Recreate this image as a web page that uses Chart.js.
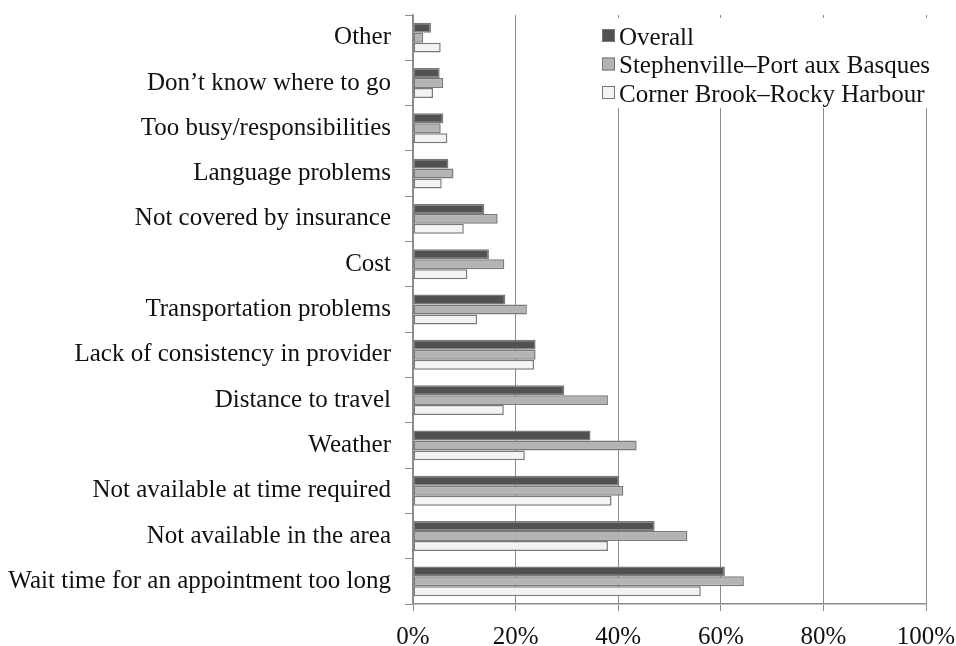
<!DOCTYPE html>
<html lang="en">
<head>
<meta charset="UTF-8">
<title>Barriers to care</title>
<script src="https://cdn.jsdelivr.net/npm/chart.js"></script>
<style>
  html, body { margin: 0; padding: 0; background: #fff; }
  .wrap { width: 956px; height: 646px; }
</style>
</head>
<body>
<div class="wrap"><canvas id="grafico" width="956" height="646"></canvas></div>
<script>
var categorias = [
  'Other',
  'Don\u2019t know where to go',
  'Too busy/responsibilities',
  'Language problems',
  'Not covered by insurance',
  'Cost',
  'Transportation problems',
  'Lack of consistency in provider',
  'Distance to travel',
  'Weather',
  'Not available at time required',
  'Not available in the area',
  'Wait time for an appointment too long'
];
var overall = [3.5, 5.2, 5.9, 6.9, 13.9, 14.8, 18.0, 23.9, 29.5, 34.6, 40.2, 47.1, 60.8];
var stephenville = [2.0, 5.9, 5.4, 7.9, 16.5, 17.8, 22.2, 23.9, 38.0, 43.6, 41.0, 53.5, 64.5];
var cornerBrook = [5.4, 3.9, 6.7, 5.6, 9.9, 10.6, 12.5, 23.6, 17.7, 21.8, 38.7, 38.0, 56.1];
var nomesSeries = ['Overall', 'Stephenville\u2013Port aux Basques', 'Corner Brook\u2013Rocky Harbour'];
var ticksX = [0, 20, 40, 60, 80, 100];

var fonte = '"Liberation Serif", "Times New Roman", serif';

// legenda desenhada dentro da area do grafico, com fundo branco
var legendaInterna = {
  id: 'legendaInterna',
  afterDraw: function (chart) {
    var ctx = chart.ctx;
    ctx.save();
    ctx.fillStyle = '#fff';
    ctx.fillRect(597, 18, 359, 90);
    ctx.font = '25px ' + fonte;
    ctx.textBaseline = 'middle';
    chart.data.datasets.forEach(function (ds, i) {
      var y = 37 + i * 28.5;
      ctx.fillStyle = ds.backgroundColor;
      ctx.fillRect(602, y - 8, 13, 13);
      ctx.strokeStyle = '#777';
      ctx.lineWidth = 1;
      ctx.strokeRect(602.5, y - 7.5, 12, 12);
      ctx.fillStyle = '#111';
      ctx.fillText(ds.label, 619, y + 1);
    });
    ctx.restore();
  }
};

new Chart(document.getElementById('grafico').getContext('2d'), {
  type: 'bar',
  data: {
    labels: categorias,
    datasets: [
      { label: nomesSeries[0], data: overall, backgroundColor: '#515151' },
      { label: nomesSeries[1], data: stephenville, backgroundColor: '#b4b4b4' },
      { label: nomesSeries[2], data: cornerBrook, backgroundColor: '#f3f3f3' }
    ]
  },
  options: {
    indexAxis: 'y',
    responsive: false,
    animation: false,
    devicePixelRatio: 1,
    datasets: {
      bar: {
        borderColor: '#7a7a7a',
        borderWidth: 1.5,
        borderSkipped: false,
        barPercentage: 1,
        categoryPercentage: 0.66
      }
    },
    layout: { padding: { top: 15, right: 30, bottom: 0, left: 0 } },
    plugins: {
      legend: { display: false },
      tooltip: { enabled: false }
    },
    scales: {
      x: {
        min: 0,
        max: 100,
        afterBuildTicks: function (scale) {
          scale.ticks = ticksX.map(function (v) { return { value: v }; });
        },
        afterFit: function (scale) {
          scale.height = 42;
          scale.paddingLeft = 0;
          scale.paddingRight = 0;
        },
        ticks: {
          color: '#111',
          font: { family: fonte, size: 25 },
          padding: 11,
          maxRotation: 0,
          callback: function (v) { return v + '%'; }
        },
        grid: { color: '#8c8c8c', lineWidth: 1, tickLength: 7, drawTicks: true },
        border: { color: '#8c8c8c', width: 1.5 }
      },
      y: {
        afterFit: function (scale) {
          scale.width = 413;
          scale.paddingTop = 0;
          scale.paddingBottom = 0;
        },
        ticks: {
          color: '#111',
          font: { family: fonte, size: 25 },
          padding: 14
        },
        grid: { drawOnChartArea: false, color: '#8c8c8c', tickLength: 8, offset: true },
        border: { color: '#8c8c8c', width: 1.5 }
      }
    }
  },
  plugins: [legendaInterna]
});
</script>
</body>
</html>
